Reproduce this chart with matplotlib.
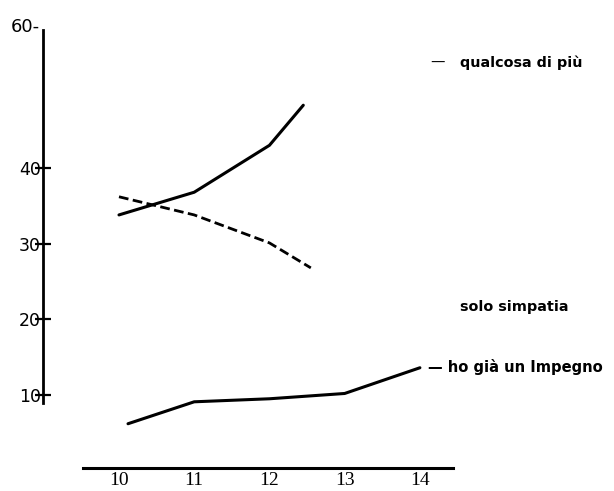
import matplotlib
matplotlib.use("Agg")
import matplotlib.pyplot as plt

# Data
x_piu = [10, 11, 12, 12.45]
y_piu = [33.8, 36.8, 43.0, 48.3]

x_simp = [10, 11, 12, 12.55]
y_simp = [36.2, 33.8, 30.1, 26.8]

x_imp = [10.12, 11, 12, 13, 14]
y_imp = [6.2, 9.1, 9.5, 10.2, 13.6]

xticks = [10, 11, 12, 13, 14]
xticklabels = ["10", "11", "12", "13", "14"]
yticks = [10, 20, 30, 40]
yticklabels = ["10", "20", "30", "40"]

W, H = 614, 491
fig = plt.figure(figsize=(W / 100, H / 100), dpi=100)

# axes box in pixels
left_px, right_px, top_px, bot_px = 43, 453, 16.7, 468
ax = fig.add_axes([left_px / W, 1 - bot_px / H, (right_px - left_px) / W, (bot_px - top_px) / H])
ax.set_xlim(8.99, 14.44)
ax.set_ylim(0.35, 60)
ax.patch.set_alpha(0)

for s in ["top", "right"]:
    ax.spines[s].set_visible(False)
ax.spines["left"].set_bounds(8.94, 58.24)
ax.spines["left"].set_linewidth(2.0)
ax.spines["bottom"].set_bounds(9.52, 14.44)
ax.spines["bottom"].set_linewidth(2.2)

ax.plot(x_piu, y_piu, color="black", lw=2.2, solid_capstyle="round")
ax.plot(x_simp, y_simp, color="black", lw=2.0, linestyle=(0, (3.5, 1.6)))
ax.plot(x_imp, y_imp, color="black", lw=2.2, solid_capstyle="round")

ax.set_yticks(yticks)
ax.set_yticklabels(yticklabels, fontsize=12.5, fontfamily="DejaVu Sans")
ax.tick_params(axis="y", direction="inout", length=11, width=1.6, pad=-4)
ax.set_xticks(xticks)
ax.set_xticklabels(xticklabels, fontsize=14, fontfamily="Liberation Serif")
ax.tick_params(axis="x", length=0, pad=3)

fig.text(40 / W, 1 - 27 / H, "60-", ha="right", va="center", fontsize=13, fontfamily="DejaVu Sans")

# series labels
fig.text(430 / W, 1 - 63 / H, "—", ha="left", va="center", fontsize=10.4)
fig.text(460 / W, 1 - 63 / H, "qualcosa di più", ha="left", va="center", fontsize=10.4, fontweight="bold")
fig.text(460 / W, 1 - 307 / H, "solo simpatia", ha="left", va="center", fontsize=10.4, fontweight="bold")
fig.text(428 / W, 1 - 367 / H, "— ho già un Impegno", ha="left", va="center", fontsize=10.6, fontweight="bold")

fig.savefig("out.png", dpi=100)
